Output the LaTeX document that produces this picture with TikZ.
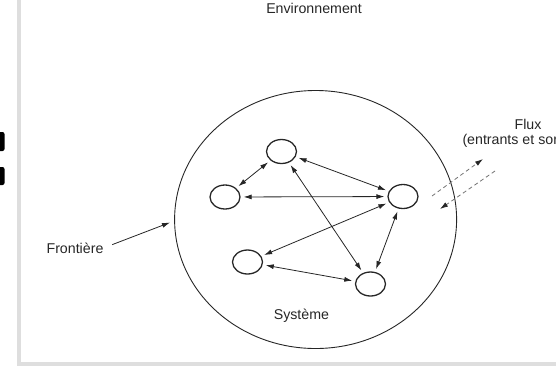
\documentclass[tikz,border=0pt]{standalone}
\usepackage{fontspec}
\setmainfont{Liberation Sans}
\usetikzlibrary{shapes.geometric,arrows.meta}

\begin{document}
\begin{tikzpicture}[x=1pt, y=-1pt, line width=0.8pt, color=black!85]
  \tikzstyle{element}=[ellipse, draw, line width=1.3pt, minimum width=30pt, minimum height=24pt, inner sep=0pt];
  \tikzstyle{liaison}=[{Latex[length=8pt,width=5pt]}-{Latex[length=8pt,width=5pt]}, shorten <=3pt, shorten >=3pt];
  \tikzstyle{fleche}=[-{Latex[length=8pt,width=5pt]}];
  \tikzstyle{flux}=[-{Latex[length=8pt,width=5pt,color=black!85]}, dash pattern=on 4pt off 3pt, black!55];
  \tikzstyle{texte}=[font=\fontsize{14.2pt}{15pt}\selectfont, text=black!85, inner sep=0pt];

  \clip (0,0) rectangle (556,368);
  \draw[black!13, line width=4pt] (19,0) -- (19,364) -- (556,364);
  \fill[black, rounded corners=2pt] (-4,132) rectangle (4.5,151);
  \fill[black, rounded corners=2pt] (-4,167) rectangle (4.5,185);

  \node[ellipse, draw, line width=0.9pt, minimum width=282pt, minimum height=258pt, inner sep=0pt] (systeme) at (315.6,219.5) {};

  \node[element] (A) at (281.5,151.5) {};
  \node[element] (B) at (225,197) {};
  \node[element] (C) at (403,196.5) {};
  \node[element] (D) at (247.5,262) {};
  \node[element] (E) at (370.5,284) {};

  \node[texte, anchor=base] (env) at (314,13.3) {Environnement};
  \node[texte, anchor=base] (front) at (75,253) {Frontière};
  \node[texte, anchor=north, align=center] (fluxtxt) at (528,119) {Flux\\(entrants et sortants)};
  \node[texte, anchor=base] (sys) at (301.4,319) {Système};

  \coordinate (bord) at (170,222.5);
  \coordinate (sortie1) at (432,196);
  \coordinate (sortie2) at (483,159);
  \coordinate (entree1) at (495,171);
  \coordinate (entree2) at (440,209);

  \draw[liaison] (A) -- (B);
  \draw[liaison] (A) -- (C);
  \draw[liaison] (A) -- (E);
  \draw[liaison] (B) -- (C);
  \draw[liaison] (C) -- (D);
  \draw[liaison] (C) -- (E);
  \draw[liaison] (D) -- (E);
  \draw[fleche, shorten <=9pt] (front.east) -- (bord);
  \draw[flux] (sortie1) -- (sortie2);
  \draw[flux] (entree1) -- (entree2);
\end{tikzpicture}
\end{document}
